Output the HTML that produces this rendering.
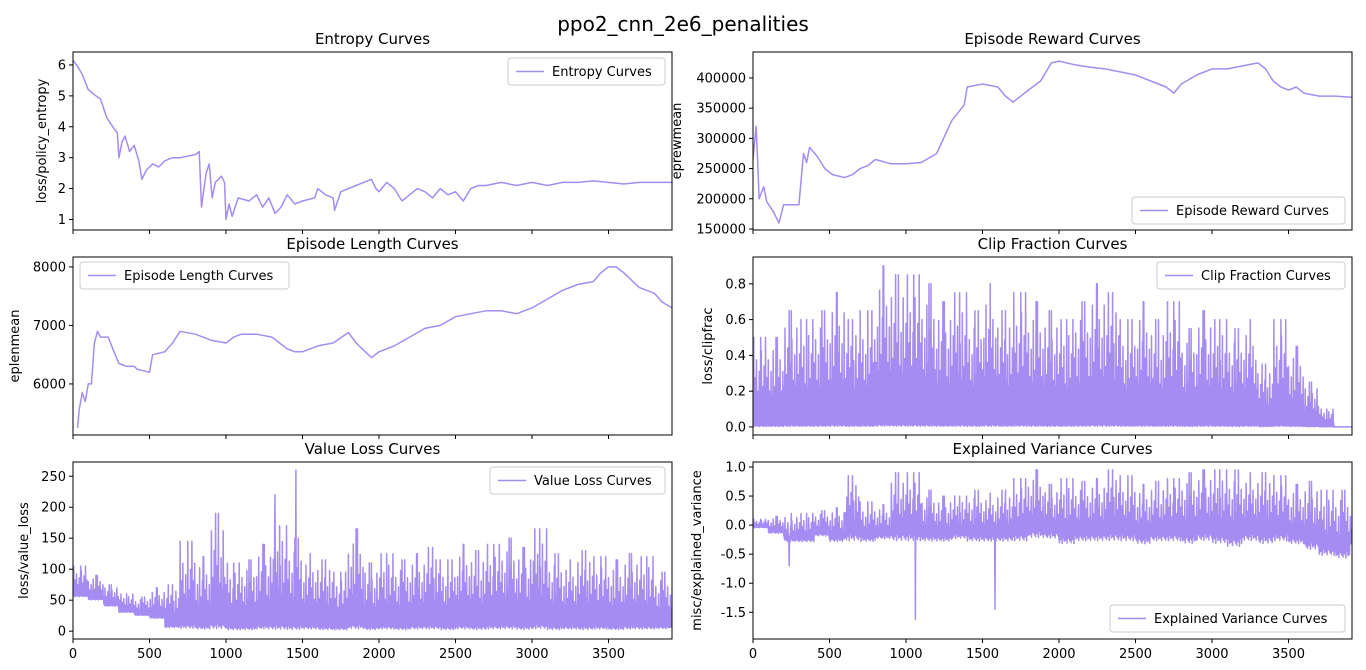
<!DOCTYPE html>
<html><head><meta charset="utf-8"><style>
html,body{margin:0;padding:0;background:#fff;}
svg text{font-family:"DejaVu Sans","Liberation Sans",sans-serif;fill:#000;}
</style></head><body>
<svg id="fig" width="1366" height="665" viewBox="0 0 1366 665" xmlns="http://www.w3.org/2000/svg">
<text x="683" y="31" font-size="20" text-anchor="middle">ppo2_cnn_2e6_penalities</text>
</svg>
<script>
// ---- data ----
const entX = [0,30,60,100,150,180,220,260,290,300,320,340,370,400,430,450,480,520,560,600,650,700,750,800,825,840,870,890,910,930,970,990,1000,1020,1040,1080,1150,1200,1240,1280,1320,1360,1400,1450,1500,1580,1600,1650,1700,1710,1750,1800,1850,1900,1950,1980,2000,2050,2100,2150,2200,2250,2300,2350,2400,2450,2500,2550,2600,2650,2700,2800,2900,3000,3100,3200,3300,3400,3500,3600,3700,3800,3915];
const entY = [6.15,5.95,5.7,5.2,5.0,4.9,4.3,4.0,3.8,3.0,3.5,3.7,3.2,3.4,2.9,2.3,2.6,2.8,2.7,2.9,3.0,3.0,3.05,3.1,3.2,1.4,2.5,2.8,1.7,2.2,2.4,2.2,1.0,1.5,1.1,1.7,1.6,1.8,1.4,1.7,1.2,1.4,1.8,1.5,1.6,1.7,2.0,1.8,1.7,1.3,1.9,2.0,2.1,2.2,2.3,2.0,1.9,2.2,2.0,1.6,1.8,2.0,1.9,1.7,2.0,1.8,1.9,1.6,2.0,2.1,2.1,2.2,2.1,2.2,2.1,2.2,2.2,2.25,2.2,2.15,2.2,2.2,2.2];
const rewX = [0,20,30,40,70,90,130,170,200,250,300,330,350,370,420,470,520,600,650,700,750,800,900,1000,1100,1200,1300,1380,1400,1500,1600,1650,1700,1800,1880,1950,2000,2100,2200,2300,2400,2500,2600,2700,2750,2800,2900,3000,3100,3200,3300,3350,3400,3450,3500,3550,3600,3700,3800,3915];
const rewY = [265000,320000,265000,200000,220000,195000,180000,160000,190000,190000,190000,275000,260000,285000,270000,250000,240000,235000,240000,250000,255000,265000,258000,258000,260000,275000,330000,355000,385000,390000,385000,370000,360000,380000,395000,425000,428000,422000,418000,415000,410000,405000,395000,385000,375000,390000,405000,415000,415000,420000,425000,415000,395000,385000,380000,385000,375000,370000,370000,368000];
const lenX = [30,40,60,80,100,120,140,160,180,230,260,300,350,400,420,500,520,600,650,700,800,900,1000,1050,1100,1200,1300,1400,1450,1500,1600,1700,1800,1850,1950,2000,2100,2200,2300,2400,2500,2600,2700,2800,2900,3000,3100,3200,3300,3400,3450,3500,3550,3600,3700,3800,3850,3915];
const lenY = [5250,5550,5850,5700,6000,6000,6700,6900,6800,6800,6600,6350,6300,6300,6250,6200,6500,6550,6700,6900,6850,6750,6700,6800,6850,6850,6800,6600,6550,6550,6650,6700,6880,6700,6450,6550,6650,6800,6950,7000,7150,7200,7250,7250,7200,7300,7450,7600,7700,7750,7900,8000,8000,7900,7650,7550,7400,7300];
const binX = [0,100,200,300,400,500,600,700,800,900,1000,1100,1200,1300,1400,1500,1600,1700,1800,1900,2000,2100,2200,2300,2400,2500,2600,2700,2800,2900,3000,3100,3200,3300,3400,3500,3600,3700,3800,3900];
const clipHi = [0.5,0.5,0.65,0.6,0.65,0.75,0.6,0.65,0.9,0.85,0.85,0.8,0.7,0.75,0.65,0.8,0.65,0.75,0.7,0.65,0.6,0.7,0.8,0.75,0.6,0.7,0.6,0.7,0.55,0.65,0.6,0.55,0.6,0.35,0.6,0.45,0.25,0.1,0,0];
const clipLo = [0,0,0,0,0,0,0,0,0,0,0,0,0,0,0,0,0,0,0,0,0,0,0,0,0,0,0,0,0,0,0,0,0,0,0,0,0,0,0,0];
const vlHi = [105,90,75,60,55,70,75,145,120,190,110,115,140,170,150,125,115,95,165,110,125,115,125,135,115,140,130,140,150,135,165,125,115,130,120,115,125,120,95,90];
const vlLo = [55,50,40,30,25,20,5,3,2,2,1,1,2,1,1,2,1,1,2,1,2,1,2,2,1,2,1,2,2,1,2,1,2,1,2,1,2,2,3,5];
const vlSpikeX = [1320,1455];
const vlSpikeY = [220,260];
const evHi = [0.1,0.15,0.2,0.2,0.25,0.3,0.85,0.4,0.35,0.9,0.9,0.6,0.5,0.5,0.6,0.55,0.6,0.8,0.95,0.7,0.8,0.75,0.8,0.95,0.85,0.7,0.75,0.8,0.9,0.95,0.95,0.95,0.9,0.9,0.85,0.7,0.75,0.6,0.6,0.45];
const evLo = [-0.05,-0.15,-0.3,-0.3,-0.2,-0.3,-0.3,-0.3,-0.25,-0.3,-0.3,-0.3,-0.3,-0.25,-0.3,-0.3,-0.3,-0.3,-0.25,-0.25,-0.35,-0.3,-0.3,-0.3,-0.3,-0.35,-0.3,-0.3,-0.35,-0.3,-0.35,-0.4,-0.3,-0.35,-0.3,-0.35,-0.45,-0.55,-0.6,-0.35];
const evSpikeX = [1060,1580,235];
const evSpikeY = [-1.62,-1.45,-0.7];
const xTicks = [0,500,1000,1500,2000,2500,3000,3500];
// noise texture pattern (style only)
const PAT = [0.3,1,0.2,0.55,0.12,0.75,0.25,0.4,0.08,0.62,0.35,0.18,0.85,0.22,0.45,0.1,0.68];
const COLOR = "#a58cf2";
const NS = "http://www.w3.org/2000/svg";
const svg = document.getElementById('fig');
function mk(tag, attrs, parent){const e=document.createElementNS(NS,tag);for(const k in attrs)e.setAttribute(k,attrs[k]);(parent||svg).appendChild(e);return e;}

function axes(cfg){
  const {name,x0,x1,y0,y1,ymin,ymax,yticks,ylabel,ylx,title,showX,legend} = cfg;
  const g = mk('g',{});
  
  
  const X = v => x0 + (v-0)/(3915-0)*(x1-x0);
  const Y = v => y1 - (v-ymin)/(ymax-ymin)*(y1-y0);
  const clipId = 'c'+name;
  const cp = mk('clipPath',{id:clipId},g); mk('rect',{x:x0,y:y0,width:x1-x0,height:y1-y0},cp);
  const t = mk('text',{x:(x0+x1)/2,y:y0-8,'font-size':15,'text-anchor':'middle'},g); t.textContent=title;
  
  
  let d='';
  if(cfg.lineX){
    cfg.lineX.forEach((xv,i)=>{d+=(i?'L':'M')+X(xv).toFixed(1)+' '+Y(cfg.lineY[i]).toFixed(1);});
  } else {
    let k=0;
    const pts=[];
    cfg.hi.forEach((h,i)=>{
      const lo=cfg.lo[i];
      const n=22;
      for(let j=0;j<n;j++){
        const xv=binX[i]+j*100/n;
        const f=PAT[(k++)%PAT.length];
        const top=lo+f*(h-lo);
        const bot=lo+(cfg.base||0)*(h-lo)*PAT[(k+5)%PAT.length];
        pts.push([xv, j===11?h:top]);
        pts.push([xv+100/n/2, bot]);
      }
    });
    (cfg.spX||[]).forEach((sx,i)=>{
      let idx=pts.findIndex(p=>p[0]>=sx); if(idx<0) idx=pts.length-1;
      pts[idx]=[pts[idx][0], cfg.spY[i]];
    });
    pts.forEach((p,i)=>{d+=(i?'L':'M')+X(p[0]).toFixed(1)+' '+Y(p[1]).toFixed(1);});
  }
  const p = mk('path',{d:d,fill:'none',stroke:COLOR,'stroke-width':1.5,'clip-path':'url(#'+clipId+')','stroke-linejoin':'round'},g);
  
  
  mk('rect',{x:x0,y:y0,width:x1-x0,height:y1-y0,fill:'none',stroke:'#000','stroke-width':1},g);
  yticks.forEach(v=>{
    const yy=Y(v);
    mk('line',{x1:x0-4,x2:x0,y1:yy,y2:yy,stroke:'#000'},g);
    const tt=mk('text',{x:x0-7,y:yy+4.5,'font-size':13,'text-anchor':'end'},g);
    tt.textContent = cfg.fmt?cfg.fmt(v):String(v);
    
    
  });
  const yl = mk('text',{x:ylx,y:(y0+y1)/2,'font-size':13,'text-anchor':'middle',transform:'rotate(-90 '+ylx+' '+(y0+y1)/2+')'},g);
  yl.textContent=ylabel;
  
  
  xTicks.forEach(v=>{
    const xx=X(v);
    mk('line',{x1:xx,x2:xx,y1:y1,y2:y1+4,stroke:'#000'},g);
    if(showX){const tt=mk('text',{x:xx,y:y1+19,'font-size':13,'text-anchor':'middle'},g);tt.textContent=v;
      
      }
  });
  const [lx,ly,lw]=legend;
  const lg = mk('g',{},g);
  
  
  mk('rect',{x:lx,y:ly,width:lw,height:27,rx:3,fill:'#fff','fill-opacity':0.8,stroke:'#ccc'},lg);
  mk('line',{x1:lx+8,x2:lx+36,y1:ly+13.5,y2:ly+13.5,stroke:COLOR,'stroke-width':1.5},lg);
  const lt=mk('text',{x:lx+44,y:ly+18,'font-size':13},lg); lt.textContent=title;
}

const L0=73,L1=672,R0=753,R1=1352;
axes({name:'entropy',x0:L0,x1:L1,y0:52,y1:230,ymin:0.66,ymax:6.42,yticks:[1,2,3,4,5,6],ylabel:'loss/policy_entropy',ylx:46,title:'Entropy Curves',lineX:entX,lineY:entY,legend:[508,58,157]});
axes({name:'reward',x0:R0,x1:R1,y0:52,y1:230,ymin:148300,ymax:443000,yticks:[150000,200000,250000,300000,350000,400000],ylabel:'eprewmean',ylx:681,title:'Episode Reward Curves',lineX:rewX,lineY:rewY,legend:[1132,197,213]});
axes({name:'length',x0:L0,x1:L1,y0:257,y1:435,ymin:5127,ymax:8170,yticks:[6000,7000,8000],ylabel:'eplenmean',ylx:19,title:'Episode Length Curves',lineX:lenX,lineY:lenY,legend:[80,262,209]});
axes({name:'clipfrac',x0:R0,x1:R1,y0:257,y1:435,ymin:-0.045,ymax:0.95,yticks:[0,0.2,0.4,0.6,0.8],fmt:v=>v.toFixed(1),ylabel:'loss/clipfrac',ylx:712,title:'Clip Fraction Curves',hi:clipHi,lo:clipLo,base:0.05,legend:[1157,262,188]});
axes({name:'valueloss',x0:L0,x1:L1,y0:462,y1:639,ymin:-12.6,ymax:273,yticks:[0,50,100,150,200,250],ylabel:'loss/value_loss',ylx:28,title:'Value Loss Curves',hi:vlHi,lo:vlLo,spX:vlSpikeX,spY:vlSpikeY,base:0.15,showX:true,legend:[490,467,175]});
axes({name:'explvar',x0:R0,x1:R1,y0:462,y1:639,ymin:-1.96,ymax:1.086,yticks:[-1.5,-1.0,-0.5,0,0.5,1.0],fmt:v=>v.toFixed(1),ylabel:'misc/explained_variance',ylx:701,title:'Explained Variance Curves',hi:evHi,lo:evLo,spX:evSpikeX,spY:evSpikeY,base:0.35,showX:true,legend:[1110,605,235]});
</script>
</body></html>
